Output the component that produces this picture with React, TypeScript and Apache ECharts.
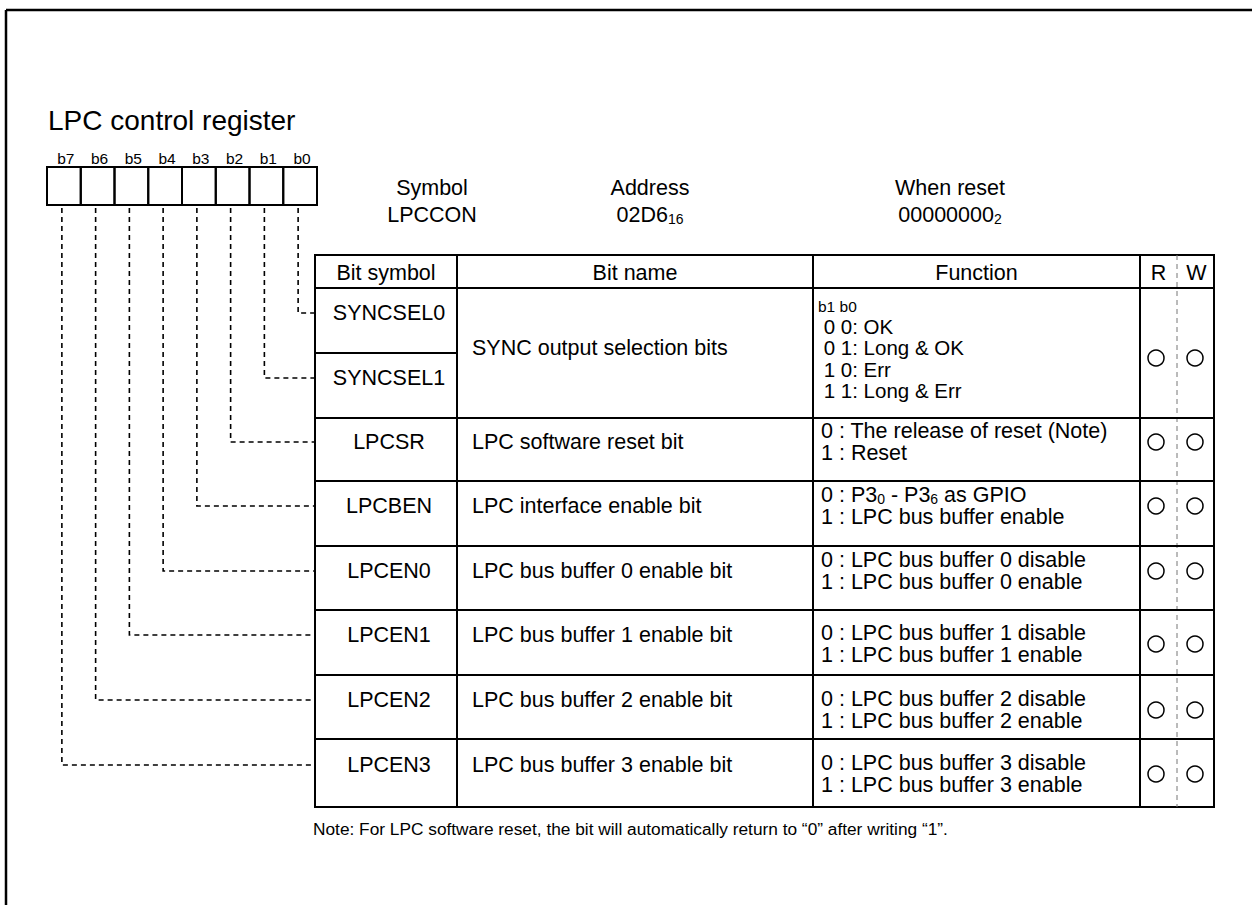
import { useEffect, useRef } from 'react';
import * as echarts from 'echarts';

// ---------- content ----------
const registerTitle = 'LPC control register';
const bitLabels = ['b7', 'b6', 'b5', 'b4', 'b3', 'b2', 'b1', 'b0'];
const headerLabels = ['Symbol', 'Address', 'When reset'];
const headerValues = ['LPCCON', '02D6', '00000000'];
const headerSubs = ['', '16', '2'];
const columnTitles = ['Bit symbol', 'Bit name', 'Function', 'R', 'W'];
const bitSymbols = ['SYNCSEL0', 'SYNCSEL1', 'LPCSR', 'LPCBEN', 'LPCEN0', 'LPCEN1', 'LPCEN2', 'LPCEN3'];
const bitNames = [
  'SYNC output selection bits',
  'LPC software reset bit',
  'LPC interface enable bit',
  'LPC bus buffer 0 enable bit',
  'LPC bus buffer 1 enable bit',
  'LPC bus buffer 2 enable bit',
  'LPC bus buffer 3 enable bit',
];
const syncselHead = 'b1 b0';
const syncselFunctions = [' 0 0: OK', ' 0 1: Long & OK', ' 1 0: Err', ' 1 1: Long & Err'];
const functionLines = [
  ['0 : The release of reset (Note)', '1 : Reset'],
  ['0 : P3{s|0} - P3{s|6} as GPIO', '1 : LPC bus buffer enable'],
  ['0 : LPC bus buffer 0 disable', '1 : LPC bus buffer 0 enable'],
  ['0 : LPC bus buffer 1 disable', '1 : LPC bus buffer 1 enable'],
  ['0 : LPC bus buffer 2 disable', '1 : LPC bus buffer 2 enable'],
  ['0 : LPC bus buffer 3 disable', '1 : LPC bus buffer 3 enable'],
];
const readable = [true, true, true, true, true, true, true];
const writable = [true, true, true, true, true, true, true];
const noteText = 'Note: For LPC software reset, the bit will automatically return to \u201C0\u201D after writing \u201C1\u201D.';

// ---------- layout ----------
const FONT = '"Liberation Sans", Arial, Helvetica, sans-serif';
const BOX_LEFT = 47;
const BOX_W = 33.75;
const BOX_TOP = 167;
const BOX_BOTTOM = 205;
const T_LEFT = 315;
const COLS = [315, 457, 813, 1140, 1214];
const RW_DIV = 1177;
const T_TOP = 255;
const H_BOTTOM = 288;
const ROW_EDGES = [288, 353, 418, 481, 546, 610, 675, 739, 807];
const FUNC_MID_OFFSET = [24, 25, 25, 34, 35, 35];
const BODY = 21.5;

function txt(x: number, y: number, text: string, size: number, align = 'left', extra: any = {}) {
  return {
    type: 'text',
    x,
    y,
    silent: true,
    style: {
      text,
      fontSize: size,
      fontFamily: FONT,
      fill: '#000',
      align,
      textAlign: align,
      verticalAlign: 'middle',
      textVerticalAlign: 'middle',
      ...extra,
    },
  };
}

function line(x1: number, y1: number, x2: number, y2: number, w = 2, extra: any = {}) {
  return {
    type: 'line',
    silent: true,
    shape: { x1, y1, x2, y2 },
    style: { stroke: '#000', lineWidth: w, ...extra },
  };
}

const subRich = {
  s: { fontSize: 14, fontFamily: FONT, lineHeight: 14, verticalAlign: 'bottom', fill: '#000' },
};

function buildElements() {
  const els: any[] = [];

  // outer frame (top and left edges visible)
  els.push(line(6, 10, 1260, 10, 2.5));
  els.push(line(6, 10, 6, 910, 2.5));

  // title
  els.push(txt(48, 120, registerTitle, 28));

  // bit boxes and labels
  bitLabels.forEach((b, i) => {
    const x = BOX_LEFT + BOX_W * i;
    els.push({
      type: 'rect',
      silent: true,
      shape: { x, y: BOX_TOP, width: BOX_W, height: BOX_BOTTOM - BOX_TOP },
      style: { fill: 'none', stroke: '#000', lineWidth: 2 },
    });
    els.push(txt(x + BOX_W / 2 + 2, 158, b, 15.5, 'center'));
  });

  // symbol / address / reset headers
  const headerX = [432, 650, 950];
  headerLabels.forEach((h, i) => {
    els.push(txt(headerX[i], 188, h, BODY, 'center'));
    const value = headerSubs[i] ? `${headerValues[i]}{s|${headerSubs[i]}}` : headerValues[i];
    els.push(
      txt(headerX[i], 215, value, BODY, 'center', { lineHeight: 22, rich: subRich })
    );
  });

  // table
  const tBottom = ROW_EDGES[ROW_EDGES.length - 1];
  els.push({
    type: 'rect',
    silent: true,
    shape: { x: T_LEFT, y: T_TOP, width: COLS[4] - T_LEFT, height: tBottom - T_TOP },
    style: { fill: 'none', stroke: '#000', lineWidth: 2 },
  });
  [1, 2, 3].forEach((c) => {
    els.push(line(COLS[c], T_TOP, COLS[c], tBottom, 2));
  });
  els.push(line(RW_DIV, T_TOP, RW_DIV, tBottom, 1, { stroke: '#777', lineDash: [5, 4] }));
  els.push(line(T_LEFT, H_BOTTOM, COLS[4], H_BOTTOM, 2));
  els.push(line(T_LEFT, ROW_EDGES[1], COLS[1], ROW_EDGES[1], 2));
  for (let r = 2; r < ROW_EDGES.length - 1; r++) {
    els.push(line(T_LEFT, ROW_EDGES[r], COLS[4], ROW_EDGES[r], 2));
  }

  // column titles
  const headY = 273;
  els.push(txt((COLS[0] + COLS[1]) / 2, headY, columnTitles[0], BODY, 'center'));
  els.push(txt((COLS[1] + COLS[2]) / 2, headY, columnTitles[1], BODY, 'center'));
  els.push(txt((COLS[2] + COLS[3]) / 2, headY, columnTitles[2], BODY, 'center'));
  els.push(txt((COLS[3] + RW_DIV) / 2, headY, columnTitles[3], BODY, 'center'));
  els.push(txt((RW_DIV + COLS[4]) / 2 + 1, headY, columnTitles[4], BODY, 'center'));

  // bit symbols
  const labelY: number[] = [];
  bitSymbols.forEach((s, i) => {
    const top = ROW_EDGES[i];
    const h = ROW_EDGES[i + 1] - top;
    const y = Math.round(top + h * 0.4 - 1);
    labelY.push(y);
    els.push(txt((COLS[0] + COLS[1]) / 2 + 3, y, s, BODY, 'center'));
  });

  // dashed connectors from bit boxes to rows
  bitLabels.forEach((_, i) => {
    const row = 7 - i;
    const x = BOX_LEFT + BOX_W * (i + 0.5) - 2;
    const y = labelY[row];
    els.push({
      type: 'polyline',
      silent: true,
      shape: { points: [[x, BOX_BOTTOM + 3], [x, y], [T_LEFT, y]] },
      style: { stroke: '#000', lineWidth: 1.6, fill: 'none', lineDash: [5, 4] },
    });
  });

  // bit names
  els.push(txt(472, (ROW_EDGES[0] + ROW_EDGES[2]) / 2 - 5, bitNames[0], BODY));
  for (let k = 1; k < bitNames.length; k++) {
    els.push(txt(472, labelY[k + 1], bitNames[k], BODY));
  }

  // functions
  els.push(txt(818, 306, syncselHead, 15.5));
  syncselFunctions.forEach((f, j) => {
    els.push(txt(818, 326 + j * 21.6, f, 20.5));
  });
  functionLines.forEach((lines, k) => {
    const top = ROW_EDGES[k + 2];
    const mid = top + FUNC_MID_OFFSET[k];
    lines.forEach((l, j) => {
      els.push(txt(821, mid - 11 + j * 22, l, BODY, 'left', { lineHeight: 22, rich: subRich }));
    });
  });

  // R / W marks
  const rx = 1156;
  const wx = 1195;
  const circleY = [358];
  functionLines.forEach((_, k) => circleY.push(ROW_EDGES[k + 2] + FUNC_MID_OFFSET[k]));
  circleY.forEach((cy, k) => {
    if (readable[k]) {
      els.push({ type: 'circle', silent: true, shape: { cx: rx, cy, r: 8 }, style: { fill: 'none', stroke: '#000', lineWidth: 1.5 } });
    }
    if (writable[k]) {
      els.push({ type: 'circle', silent: true, shape: { cx: wx, cy, r: 8 }, style: { fill: 'none', stroke: '#000', lineWidth: 1.5 } });
    }
  });

  // note
  els.push(txt(313, 829, noteText, 17.3));

  return els;
}

export default function App() {
  const ref = useRef<HTMLDivElement>(null);
  useEffect(() => {
    if (!ref.current) return;
    const chart = echarts.init(ref.current, null, { renderer: 'svg' });
    chart.setOption({
      animation: false,
      backgroundColor: '#fff',
      graphic: { elements: buildElements() },
    });
    return () => chart.dispose();
  }, []);
  return (
    <div
      ref={ref}
      style={{ position: 'absolute', left: 0, top: 0, width: 1252, height: 905, background: '#fff' }}
    />
  );
}
